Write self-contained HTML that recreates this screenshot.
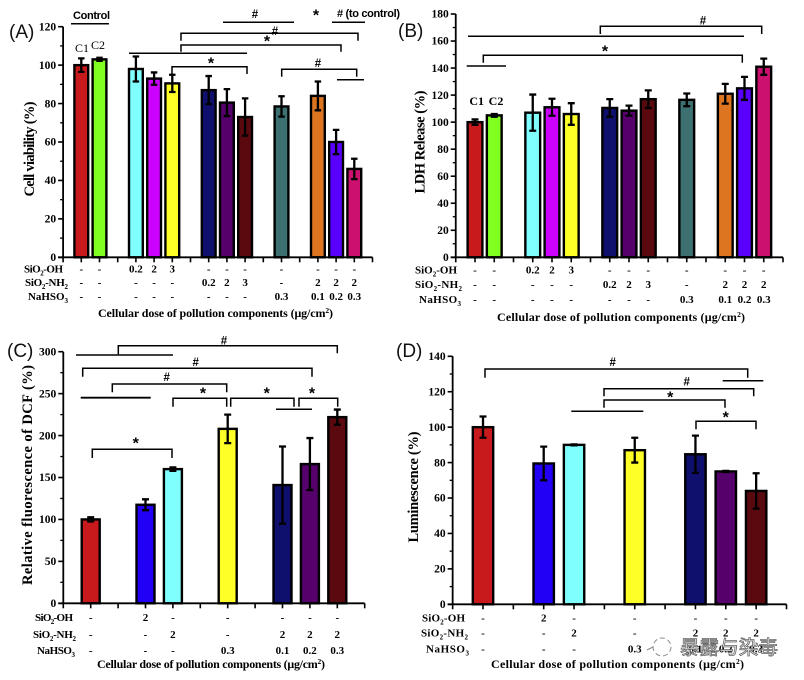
<!DOCTYPE html>
<html lang="en">
<head>
<meta charset="utf-8">
<title>Pollution component toxicity bar charts</title>
<style>
html,body{margin:0;padding:0;background:#fff;width:804px;height:680px;overflow:hidden}
svg{display:block;filter:blur(.35px)}
text{font-family:"Liberation Serif","Noto Serif CJK SC",serif;fill:#000}
.b{font-weight:bold}
.tick{font-size:11.5px;font-weight:bold;text-anchor:end}
.row{font-size:11px;font-weight:bold;text-anchor:middle}
.rl{font-size:11px;font-weight:bold}
.xt{font-size:12px;font-weight:bold}
.yt{font-size:14.5px;font-weight:bold;text-anchor:middle}
.s{font-family:"Liberation Sans",sans-serif}
.pl{font-family:"Liberation Sans",sans-serif;font-size:19px;fill:#111}
.st{font-family:"Liberation Sans",sans-serif;font-size:16px;font-weight:bold;text-anchor:middle}
.ha{font-family:"Liberation Sans",sans-serif;font-size:11.5px;font-weight:bold;text-anchor:middle}
.cl{font-size:12px;text-anchor:middle}
.br{fill:none;stroke:#000;stroke-width:1.5}
.wm{font-family:"Noto Sans CJK SC",sans-serif;font-size:19.6px;fill:#fff;stroke:#666;stroke-width:.8}
</style>
</head>
<body>
<svg id="fig" width="804" height="680" viewBox="0 0 804 680" xmlns="http://www.w3.org/2000/svg">
<g id="panelA"></g>
<g id="panelB"></g>
<g id="panelC"></g>
<g id="panelD"></g>

<g>
<text class="pl" x="9" y="38">(A)</text>
<text class="s b" font-size="11" x="73" y="19" textLength="37">Control</text>
<path class="br" d="M71 23.7H109"/>
<text class="cl" x="82" y="52">C1</text>
<text class="cl" x="98" y="49">C2</text>
<text class="ha" x="255" y="18">#</text>
<path class="br" d="M223 22.3H294"/>
<text class="st" x="316" y="20.5">*</text>
<text class="s b" font-size="11" x="337" y="17" textLength="63"># (to control)</text>
<path class="br" d="M332 22.3H365"/>
<path class="br" d="M181 40.7V33.3H358V40.7"/>
<text class="ha" x="275" y="35">#</text>
<path class="br" d="M181 51.7V45H341V51.7"/>
<text class="st" x="267" y="46.5">*</text>
<path class="br" d="M129 53.3H247"/>
<path class="br" d="M172 74V66.7H247V74"/>
<text class="st" x="211" y="68.5">*</text>
<path class="br" d="M281.7 76.7V69.3H356.7V76.7"/>
<text class="ha" x="318" y="67">#</text>
<path class="br" d="M337 79.7H364"/>
</g>

<g>
<text class="pl" x="398" y="37">(B)</text>
<text class="cl b" x="476.7" y="105">C1</text>
<text class="cl b" x="496" y="105">C2</text>
<path class="br" d="M600.3 34V26.3H761.7V34"/>
<text class="ha" x="703" y="24.5">#</text>
<path class="br" d="M468 36.3H744"/>
<path class="br" d="M483.3 62.7V55.3H742.3V62.7"/>
<text class="st" x="605" y="56.5">*</text>
<path class="br" d="M466.7 66H506"/>
</g>

<g>
<text class="pl" x="7" y="357">(C)</text>
<path class="br" d="M118.3 354.3V345.7H337.3V353.3"/>
<text class="ha" x="224" y="344.5">#</text>
<path class="br" d="M76 355H173"/>
<path class="br" d="M82.7 376.7V368.3H312V376.7"/>
<text class="ha" x="195.7" y="366">#</text>
<path class="br" d="M112.3 392.3V384H226.7V392.3"/>
<text class="ha" x="166.7" y="381">#</text>
<path class="br" d="M80.7 397.7H150.7" style="stroke-width:1.8"/>
<path class="br" d="M173 406.7V398.3H226.7V406.7"/>
<text class="st" x="203" y="398.5">*</text>
<path class="br" d="M230.7 406.7V398.3H294V406.7"/>
<text class="st" x="266.7" y="398.5">*</text>
<path class="br" d="M299 406.7V398.3H337.7V406.7"/>
<text class="st" x="312" y="398.5">*</text>
<path class="br" d="M276 409.3H312"/>
<path class="br" d="M92.3 458V449.3H172V458"/>
<text class="st" x="135.7" y="448.5">*</text>
</g>

<g>
<text class="pl" x="396" y="357">(D)</text>
<path class="br" d="M485 377.7V369H747.7V377.7"/>
<text class="ha" x="612.7" y="366">#</text>
<path class="br" d="M722.7 380.7H763.3"/>
<path class="br" d="M604 396.3V388.7H753.7V396.3"/>
<text class="ha" x="686.7" y="385.5">#</text>
<path class="br" d="M604 407.7V400H725V407.7"/>
<text class="st" x="670.3" y="402.5">*</text>
<path class="br" d="M571.3 411.3H643.3"/>
<path class="br" d="M696 429.3V421.3H756V429.3"/>
<text class="st" x="725.7" y="422.5">*</text>
</g>

<g>
<circle cx="662" cy="647" r="9" fill="none" stroke="#888" stroke-width="1" stroke-dasharray="5 3"/>
<path d="M647 650L653 647" fill="none" stroke="#888" stroke-width="1"/>
<text class="wm" x="680" y="654" textLength="98">暴露与染毒</text>
</g>
</svg>

<script>
const colors = {red:'#c8191c',lime:'#80ff20',cyan:'#80ffff',magenta:'#cc00ff',yellow:'#ffff28',navy:'#0f0f6e',purple:'#55006b',maroon:'#5a0a0f',teal:'#3d7070',orange:'#dc7420',violet:'#5a00ff',blue:'#2200f5',crimson:'#cc1070'};

const panelACategories = ['C1','C2','','OH 0.2','OH 2','OH 3','','NH2 0.2','NH2 2','NH2 3','','NaHSO3 0.3','','NH2+S 0.1','NH2+S 0.2','NH2+S 0.3'];
const panelAValues = [100,103,null,98,93,90.5,null,87,80.5,73,null,78.5,null,84,60,46];
const panelAErrors = [3.5,0.8,null,6.5,3.2,4.5,null,7.3,7,9.7,null,5.3,null,7.5,6.3,5.3];
const panelAColors = ['red','lime','','cyan','magenta','yellow','','navy','purple','maroon','','teal','','orange','violet','crimson'];
const panelATicks = [0,20,40,60,80,100,120];
const panelARowOH = ['-','-','','0.2','2','3','','-','-','-','','-','','-','-','-'];
const panelARowNH = ['-','-','','-','-','-','','0.2','2','3','','-','','2','2','2'];
const panelARowS = ['-','-','','-','-','-','','-','-','-','','0.3','','0.1','0.2','0.3'];

const panelBCategories = panelACategories.slice();
const panelBValues = [100,105,null,107,111,106,null,110.5,108.5,117,null,116.5,null,121,125,141];
const panelBErrors = [2,1,null,13.4,6.3,8,null,6.5,3.7,6.5,null,4.7,null,7.3,8.5,6];
const panelBColors = panelAColors.slice();
const panelBTicks = [0,20,40,60,80,100,120,140,160,180];

const panelCCategories = ['Control','','OH 2','NH2 2','','NaHSO3 0.3','','NH2+S 0.1','NH2+S 0.2','NH2+S 0.3'];
const panelCValues = [100,null,117.5,160,null,208,null,141,166,222];
const panelCErrors = [2.5,null,6.5,2,null,17,null,46,31,9];
const panelCColors = ['red','','blue','cyan','','yellow','','navy','purple','maroon'];
const panelCTicks = [0,50,100,150,200,250,300];
const panelCRowOH = ['-','','2','-','','-','','-','-','-'];
const panelCRowNH = ['-','','-','2','','-','','2','2','2'];
const panelCRowS = ['-','','-','-','','0.3','','0.1','0.2','0.3'];

const panelDCategories = panelCCategories.slice();
const panelDValues = [100,null,79.5,90,null,87,null,84.7,75,64];
const panelDErrors = [6,null,9.5,0.3,null,7,null,10.5,0.3,10];
const panelDColors = panelCColors.slice();
const panelDTicks = [0,20,40,60,80,100,120,140];

const SVGNS = 'http://www.w3.org/2000/svg';

function make(parent, tag, name, attrs) {
  const el = document.createElementNS(SVGNS, tag);
  
  
  for (const k in attrs) el.setAttribute(k, attrs[k]);
  parent.appendChild(el);
  return el;
}

function drawPanel(cfg) {
  const g = document.getElementById(cfg.id);
  const n = cfg.categories.length;
  const xScale = function (slot) { return cfg.x0 + cfg.step * slot; };
  const yMax = cfg.ticks[cfg.ticks.length - 1];
  const yScale = function (v) { return cfg.y0 - v * (cfg.y0 - cfg.yTop) / yMax; };

  cfg.values.forEach(function (v, i) {
    if (v === null) return;
    const hw = cfg.barW / 2;
    make(g, 'rect', 'bar-' + cfg.categories[i].replace(/\W+/g, '-').toLowerCase(), {
      x: xScale(i) - hw, y: yScale(v), width: cfg.barW, height: cfg.y0 - yScale(v),
      fill: colors[cfg.barColors[i]], stroke: '#000', 'stroke-width': 2.4
    });
    const e = cfg.errors[i];
    const cx = xScale(i);
    const cap = cfg.capW / 2;
    make(g, 'path', 'error-bar', {
      d: 'M' + cx + ' ' + yScale(v + e) + 'V' + yScale(v - e) +
         'M' + (cx - cap) + ' ' + yScale(v + e) + 'H' + (cx + cap) +
         'M' + (cx - cap) + ' ' + yScale(v - e) + 'H' + (cx + cap),
      fill: 'none', stroke: '#000', 'stroke-width': 2.3
    });
  });

  make(g, 'path', 'y-axis', {d: 'M' + xScale(-1) + ' ' + cfg.yTop + 'V' + cfg.y0, stroke: '#000', 'stroke-width': 1.8, fill: 'none'});
  make(g, 'path', 'x-axis', {d: 'M' + (xScale(-1) - 5) + ' ' + cfg.y0 + 'H' + xScale(n), stroke: '#000', 'stroke-width': 1.9, fill: 'none'});

  for (let s = -1; s <= n; s++) {
    make(g, 'path', 'x-tick', {d: 'M' + xScale(s) + ' ' + cfg.y0 + 'v5', stroke: '#000', 'stroke-width': 1.6, fill: 'none'});
  }
  cfg.ticks.forEach(function (t, i) {
    const y = yScale(t);
    make(g, 'path', 'y-tick', {d: 'M' + xScale(-1) + ' ' + y + 'h-5', stroke: '#000', 'stroke-width': 1.6, fill: 'none'});
    const label = make(g, 'text', 'y-tick-label', {class: 'tick', x: xScale(-1) - 7, y: y + 3.7});
    label.textContent = t;
    if (i < cfg.ticks.length - 1) {
      const my = yScale((t + cfg.ticks[i + 1]) / 2);
      make(g, 'path', 'y-minor-tick', {d: 'M' + xScale(-1) + ' ' + my + 'h-3', stroke: '#000', 'stroke-width': 1.3, fill: 'none'});
    }
  });

  cfg.rows.forEach(function (row, r) {
    row.cells.forEach(function (val, i) {
      if (val === '') return;
      const t = make(g, 'text', 'dose-cell', {class: 'row', x: xScale(i), y: row.y});
      t.textContent = val;
    });
    const lab = make(g, 'text', 'row-label', {class: 'rl', x: row.lx, y: row.y, textLength: row.lw});
    lab.innerHTML = row.label;
  });

  const xt = make(g, 'text', 'x-axis-title', {class: 'xt', x: cfg.xtX, y: cfg.xtY, textLength: cfg.xtW});
  xt.innerHTML = 'Cellular dose of pollution components (μg/cm<tspan font-size="7.5" dy="-4">2</tspan><tspan dy="4">)</tspan>';

  const yt = make(g, 'text', 'y-axis-title', {class: 'yt', x: 0, y: 0, textLength: cfg.ytLen, transform: 'translate(' + cfg.ytX + ' ' + cfg.ytY + ') rotate(-90)'});
  yt.textContent = cfg.yTitle;
}

const LOH = 'SiO<tspan font-size="7" dy="3">2</tspan><tspan dy="-3">-OH</tspan>';
const LNH = 'SiO<tspan font-size="7" dy="3">2</tspan><tspan dy="-3">-NH</tspan><tspan font-size="7" dy="3">2</tspan>';
const LS = 'NaHSO<tspan font-size="7" dy="3">3</tspan>';

drawPanel({id:'panelA',categories:panelACategories,values:panelAValues,errors:panelAErrors,barColors:panelAColors,ticks:panelATicks,
  x0:81.3,step:18.2,y0:257.3,yTop:26.7,barW:13.8,capW:6.5,
  rows:[{cells:panelARowOH,y:272.5,label:LOH,lx:24,lw:39},{cells:panelARowNH,y:286,label:LNH,lx:25,lw:43},{cells:panelARowS,y:300,label:LS,lx:28,lw:40}],
  xtX:98,xtY:317,xtW:235,ytX:34,ytY:149,ytLen:95,yTitle:'Cell viability (%)'});

drawPanel({id:'panelB',categories:panelBCategories,values:panelBValues,errors:panelBErrors,barColors:panelBColors,ticks:panelBTicks,
  x0:475,step:19.25,y0:257.3,yTop:14,barW:14.8,capW:7,
  rows:[{cells:panelARowOH,y:273.5,label:LOH,lx:415,lw:42},{cells:panelARowNH,y:288,label:LNH,lx:415,lw:47},{cells:panelARowS,y:303,label:LS,lx:419,lw:42}],
  xtX:497,xtY:321,xtW:248,ytX:424.5,ytY:142,ytLen:103,yTitle:'LDH Release (%)'});

drawPanel({id:'panelC',categories:panelCCategories,values:panelCValues,errors:panelCErrors,barColors:panelCColors,ticks:panelCTicks,
  x0:90.7,step:27.4,y0:603.3,yTop:351.7,barW:18,capW:7,
  rows:[{cells:panelCRowOH,y:621,label:LOH,lx:35,lw:38},{cells:panelCRowNH,y:638,label:LNH,lx:33,lw:43},{cells:panelCRowS,y:654,label:LS,lx:37,lw:38}],
  xtX:97,xtY:668,xtW:228,ytX:32,ytY:475,ytLen:220,yTitle:'Relative fluorescence of DCF (%)'});

drawPanel({id:'panelD',categories:panelDCategories,values:panelDValues,errors:panelDErrors,barColors:panelDColors,ticks:panelDTicks,
  x0:483,step:30.35,y0:604.3,yTop:356.3,barW:20.4,capW:7,
  rows:[{cells:panelCRowOH,y:621.5,label:LOH,lx:422,lw:43},{cells:panelCRowNH,y:636.5,label:LNH,lx:421,lw:47},{cells:panelCRowS,y:652.5,label:LS,lx:426,lw:43}],
  xtX:491,xtY:668,xtW:253,ytX:418,ytY:487,ytLen:111,yTitle:'Luminescence (%)'});
</script>
</body>
</html>
